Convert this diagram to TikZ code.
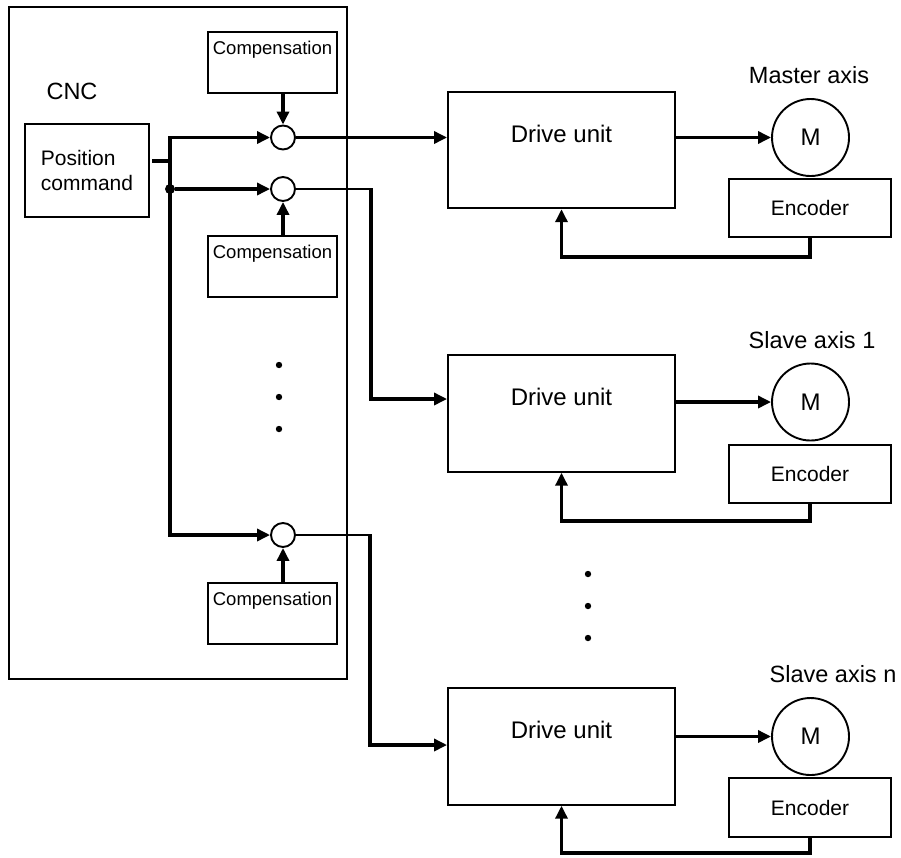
\documentclass[tikz,border=0pt]{standalone}
\usepackage{fontspec}
\setmainfont{Liberation Sans}
\usetikzlibrary{arrows.meta}
\def\drvW{227}
\def\encW{162}
\def\encH{58.5}
\def\motR{38.5}
\def\sumR{12}
\newcommand{\fsz}[2]{\fontsize{#1}{#2}\selectfont}

\begin{document}
\begin{tikzpicture}[x=1pt,y=-1pt,
  box/.style={draw,line width=1.9pt,inner sep=0pt},
  drvbox/.style={box,minimum width=\drvW pt,text height=50.6pt,text depth=65.9pt,font=\fsz{24}{29}},
  encbox/.style={box,minimum width=\encW pt,minimum height=\encH pt,font=\fsz{21}{25}},
  compbox/.style={box,minimum width=129pt,text height=22.6pt,text depth=38.4pt,font=\fsz{18.5}{22}},
  motor/.style={draw,circle,line width=1.9pt,inner sep=0pt,minimum size=2*\motR pt,font=\fsz{24}{29}},
  sumc/.style={draw,circle,line width=1.9pt,inner sep=0pt,minimum size=2*\sumR pt},
  axlbl/.style={font=\fsz{23.5}{28}},
  sig/.style={line width=3.3pt},
  arr/.style={sig,-{Triangle[length=13pt,width=12pt]}}]
  \useasboundingbox (0,0) rectangle (901,857);
  % CNC side
  \node[box,minimum width=338pt,minimum height=672pt] (cnc) at (178,343) {};
  \node[axlbl] (cnclbl) at (72,91) {CNC};
  \node[box,minimum width=124pt,minimum height=93pt,align=left,font=\fsz{21}{25}] (pos) at (87,170.5) {Position\\command};
  \node[compbox] (comp1) at (272.5,62.5) {Compensation};
  \node[compbox] (comp2) at (272.5,266.5) {Compensation};
  \node[compbox] (comp3) at (272.5,613.5) {Compensation};
  \node[sumc] (s1) at (283,137.5) {};
  \node[sumc] (s2) at (283,189) {};
  \node[sumc] (s3) at (283,535) {};
  \node[circle,fill,inner sep=0pt,minimum size=10pt] (jn) at (170,189) {};
  \coordinate (bt) at (170,137.5);
  \coordinate (bb) at (170,535);
  \coordinate (stub) at (152,161);
  \draw[sig] (stub) -- (stub -| bt);
  \draw[sig,{Triangle[length=13pt,width=12pt]}-{Triangle[length=13pt,width=12pt]}] (s1.west) -- (bt) -- (bb) -- (s3.west);
  \draw[arr] (jn) -- (s2.west);
  \draw[arr] (s1.north |- comp1.south) -- (s1.north);
  \draw[arr] (s2.south |- comp2.north) -- (s2.south);
  \draw[arr] (s3.south |- comp3.north) -- (s3.south);
  \foreach \y in {365,397,429} { \fill (279,\y) circle (3.2pt); }
  % axes
  \foreach \r/\dy/\my/\ey/\fy/\lx/\lbl in {1/150/137.5/208/257/809/Master axis,
      2/413.5/402/474/521/812/Slave axis 1, 3/746.5/736.5/807.5/853/833/Slave axis n} {
    \node[drvbox] (drv\r) at (561.5,\dy) {Drive unit};
    \node[motor] (mot\r) at (810.5,\my) {M};
    \node[encbox] (enc\r) at (810,\ey) {Encoder};
    \node[axlbl] (lbl\r) at (\lx,{\my-62}) {\lbl};
    \draw[arr] (drv\r.east |- mot\r.west) -- (mot\r.west);
    \draw[arr] (enc\r.south) -- (enc\r.south |- 0,\fy) -| (drv\r.south);
  }
  \foreach \y in {574,606,638} { \fill (588,\y) circle (3.2pt); }
  \coordinate (k2) at (371,399);
  \coordinate (k3) at (370,745);
  \draw[arr] (s1.east) -- (s1.east -| drv1.west);
  \draw[line width=2.2pt] (s2.east) -- ([xshift=1.65pt]s2.east -| k2);
  \draw[arr] (s2.east -| k2) -- (k2) -- (k2 -| drv2.west);
  \draw[line width=2.2pt] (s3.east) -- ([xshift=1.65pt]s3.east -| k3);
  \draw[arr] (s3.east -| k3) -- (k3) -- (k3 -| drv3.west);
\end{tikzpicture}
\end{document}
